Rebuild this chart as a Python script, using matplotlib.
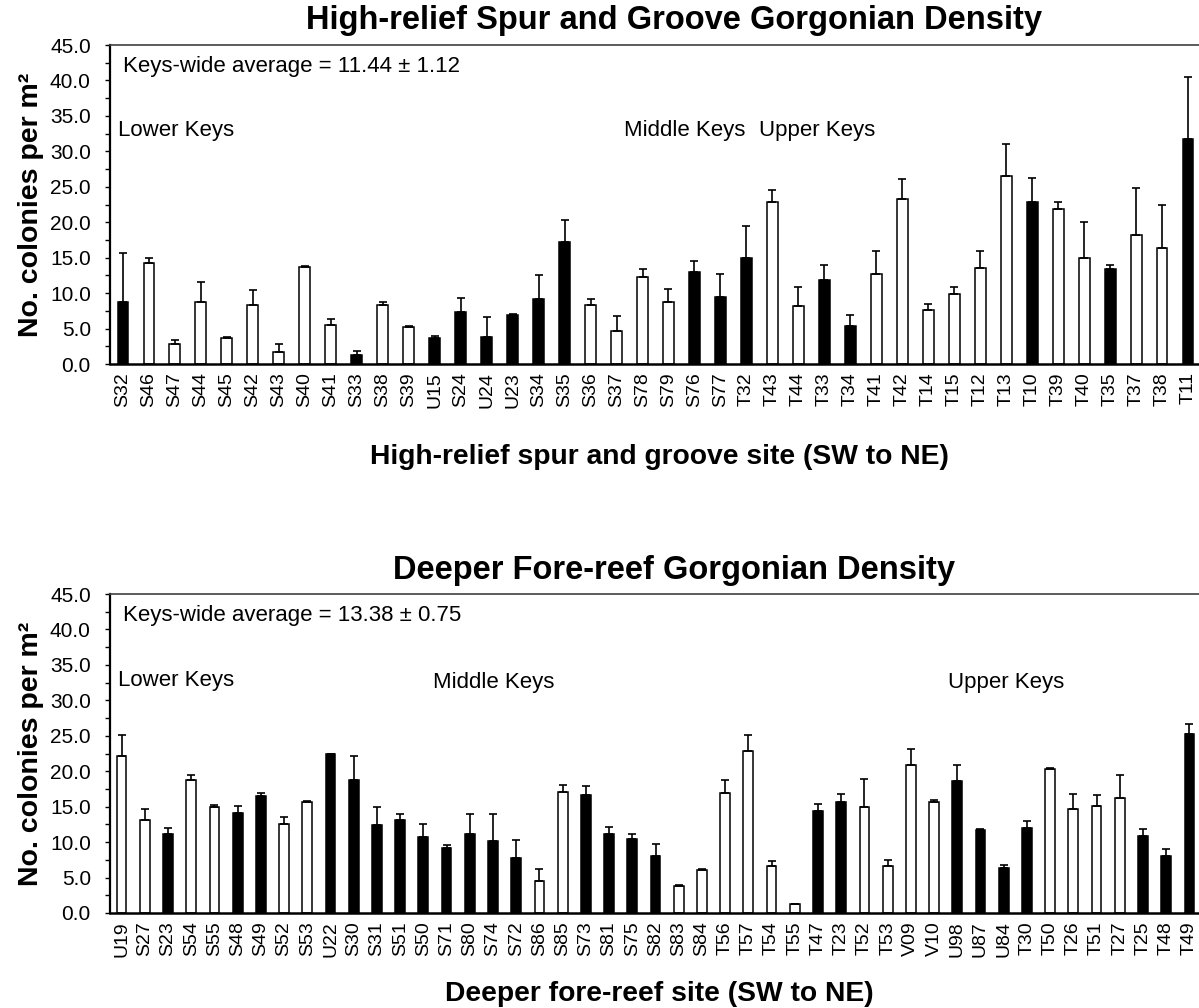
import matplotlib
matplotlib.use("Agg")
import matplotlib.pyplot as plt
from matplotlib.ticker import MultipleLocator, FormatStrFormatter
import numpy as np

plt.rcParams['font.family'] = ['Liberation Sans', 'DejaVu Sans']

# ---------------- Data: High-relief spur and groove ----------------
hr_sites = ["S32", "S46", "S47", "S44", "S45", "S42", "S43", "S40", "S41", "S33",
            "S38", "S39", "U15", "S24", "U24", "U23", "S34", "S35", "S36", "S37",
            "S78", "S79", "S76", "S77", "T32", "T43", "T44", "T33", "T34", "T41",
            "T42", "T14", "T15", "T12", "T13", "T10", "T39", "T40", "T35", "T37",
            "T38", "T11"]
hr_mean = [8.7, 14.2, 2.8, 8.7, 3.7, 8.3, 1.7, 13.7, 5.5, 1.3,
           8.3, 5.2, 3.6, 7.4, 3.8, 6.9, 9.2, 17.2, 8.3, 4.6,
           12.3, 8.7, 13.0, 9.5, 15.0, 22.9, 8.2, 11.9, 5.3, 12.7,
           23.3, 7.6, 9.9, 13.6, 26.5, 22.9, 21.8, 15.0, 13.4, 18.2,
           16.3, 31.8]
hr_se = [7.0, 0.8, 0.6, 2.9, 0.1, 2.1, 1.1, 0.1, 0.8, 0.6,
         0.5, 0.1, 0.4, 1.9, 2.8, 0.1, 3.3, 3.1, 0.8, 2.2,
         1.1, 1.9, 1.6, 3.2, 4.5, 1.7, 2.6, 2.0, 1.6, 3.2,
         2.8, 0.8, 0.9, 2.3, 4.5, 3.4, 1.1, 5.1, 0.5, 6.6,
         6.2, 8.7]
hr_filled = [1, 0, 0, 0, 0, 0, 0, 0, 0, 1,
             0, 0, 1, 1, 1, 1, 1, 1, 0, 0,
             0, 0, 1, 1, 1, 0, 0, 1, 1, 0,
             0, 0, 0, 0, 0, 1, 0, 0, 1, 0,
             0, 1]

# ---------------- Data: Deeper fore-reef ----------------
fr_sites = ["U19", "S27", "S23", "S54", "S55", "S48", "S49", "S52", "S53", "U22",
            "S30", "S31", "S51", "S50", "S71", "S80", "S74", "S72", "S86", "S85",
            "S73", "S81", "S75", "S82", "S83", "S84", "T56", "T57", "T54", "T55",
            "T47", "T23", "T52", "T53", "V09", "V10", "U98", "U87", "U84", "T30",
            "T50", "T26", "T51", "T27", "T25", "T48", "T49"]
fr_mean = [22.2, 13.1, 11.1, 18.8, 15.0, 14.1, 16.5, 12.6, 15.7, 22.4,
           18.8, 12.4, 13.1, 10.7, 9.2, 11.1, 10.1, 7.7, 4.5, 17.1,
           16.6, 11.1, 10.5, 8.0, 3.8, 6.1, 16.9, 22.8, 6.7, 1.2,
           14.4, 15.7, 15.0, 6.7, 20.9, 15.7, 18.6, 11.7, 6.3, 12.0,
           20.3, 14.7, 15.1, 16.2, 10.9, 8.0, 25.2]
fr_se = [2.9, 1.6, 0.9, 0.7, 0.2, 1.0, 0.4, 0.9, 0.1, 0.0,
         3.4, 2.5, 0.8, 1.9, 0.4, 2.8, 3.8, 2.6, 1.7, 1.0,
         1.3, 1.1, 0.6, 1.8, 0.15, 0.15, 1.9, 2.3, 0.6, 0.1,
         1.0, 1.1, 3.9, 0.8, 2.3, 0.3, 2.3, 0.15, 0.5, 1.0,
         0.15, 2.1, 1.5, 3.2, 0.9, 1.0, 1.4]
fr_filled = [0, 0, 1, 0, 0, 1, 1, 0, 0, 1,
             1, 1, 1, 1, 1, 1, 1, 1, 0, 0,
             1, 1, 1, 1, 0, 0, 0, 0, 0, 0,
             1, 1, 0, 0, 0, 0, 1, 1, 1, 1,
             0, 0, 0, 0, 1, 1, 1]

W, H = 1199, 1008
fig = plt.figure(figsize=(W / 100, H / 100), dpi=100)


def px_axes(left, top, right, bottom):
    return fig.add_axes([left / W, 1 - bottom / H, (right - left) / W, (bottom - top) / H])


def draw_panel(ax, sites, mean, se, filled, title, xlabel, avg_text, regions,
               title_y, xlabel_y):
    x = np.arange(len(sites))
    colors = ['black' if f else 'white' for f in filled]
    ax.bar(x, mean, width=0.42, color=colors, edgecolor='black', linewidth=1.1, zorder=2)
    ax.errorbar(x, mean, yerr=[np.zeros(len(se)), se], fmt='none', ecolor='black',
                elinewidth=1.2, capsize=3.0, capthick=1.2, zorder=3)
    ax.set_xlim(-0.5, len(sites) - 0.5)
    ax.set_ylim(0, 45)
    ax.yaxis.set_major_locator(MultipleLocator(5))
    ax.yaxis.set_minor_locator(MultipleLocator(2.5))
    ax.yaxis.set_major_formatter(FormatStrFormatter('%.1f'))
    ax.tick_params(axis='y', which='both', direction='out', length=3.8, width=1.0,
                   labelsize=15, pad=10)
    ax.set_xticks(x)
    ax.set_xticklabels(sites, rotation=90, fontsize=14)
    ax.tick_params(axis='x', length=0, pad=6)
    ax.spines['right'].set_visible(False)
    ax.spines['top'].set_color('#404040')
    ax.spines['top'].set_linewidth(1.2)
    ax.spines['left'].set_linewidth(1.6)
    ax.spines['bottom'].set_linewidth(1.8)
    ax.set_ylabel('No. colonies per m²', fontsize=20.5, fontweight='bold', labelpad=4)
    fig.text(659 / W, 1 - xlabel_y / H, xlabel, fontsize=20.3, fontweight='bold',
             ha='center', va='center')
    ax.text(0.012, 42.0, avg_text, fontsize=16, va='center', ha='left',
            transform=ax.get_yaxis_transform())
    for label, xpos, ypos in regions:
        ax.text(xpos, ypos, label, fontsize=16, va='center', ha='left')
    fig.text(674 / W, 1 - title_y / H, title, fontsize=23.5, fontweight='bold',
             ha='center', va='center')


ax1 = px_axes(110, 45, 1201, 364)
draw_panel(ax1, hr_sites, hr_mean, hr_se, hr_filled,
           'High-relief Spur and Groove Gorgonian Density',
           'High-relief spur and groove site (SW to NE)',
           'Keys-wide average = 11.44 ± 1.12',
           [('Lower Keys', -0.2, 32.9), ('Middle Keys', 19.3, 32.9), ('Upper Keys', 24.5, 32.9)],
           20, 457)

ax2 = px_axes(110, 594, 1201, 913)
draw_panel(ax2, fr_sites, fr_mean, fr_se, fr_filled,
           'Deeper Fore-reef Gorgonian Density',
           'Deeper fore-reef site (SW to NE)',
           'Keys-wide average = 13.38 ± 0.75',
           [('Lower Keys', -0.15, 32.8), ('Middle Keys', 13.4, 32.5), ('Upper Keys', 35.6, 32.5)],
           570, 994)

fig.savefig('out.png', dpi=100)
